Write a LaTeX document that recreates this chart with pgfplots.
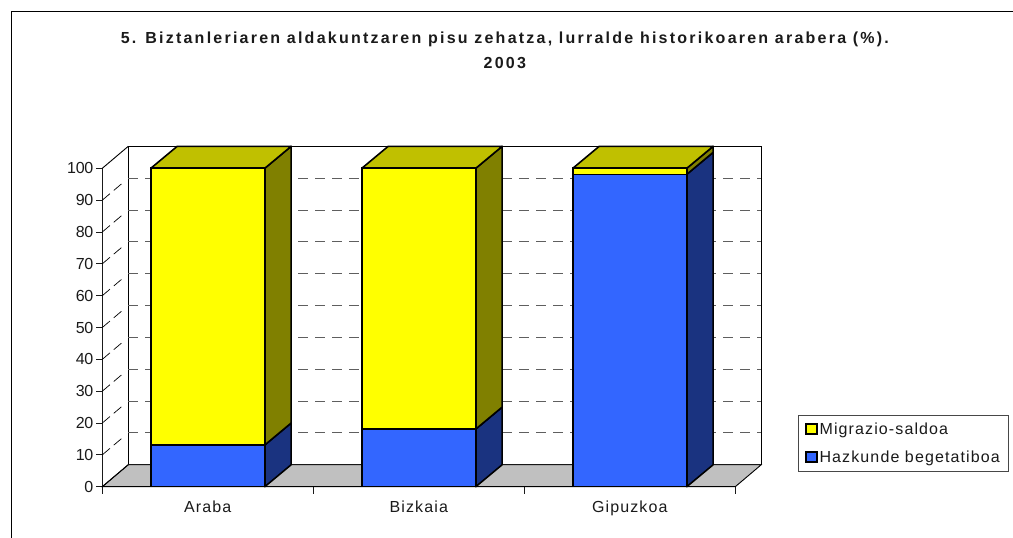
\documentclass[border=0pt]{standalone}
\usepackage{fontspec}
\setmainfont{Liberation Sans}[LetterSpace=6]
\usepackage{pgfplots}
\usepackage{pgfplotstable}
\pgfplotsset{compat=1.18}
\definecolor{barY}{HTML}{FFFF00}
\definecolor{barYtop}{HTML}{C0C000}
\definecolor{barYside}{HTML}{808000}
\definecolor{barB}{HTML}{3366FF}
\definecolor{barBside}{HTML}{1A3380}
\definecolor{floorgray}{HTML}{C0C0C0}
\definecolor{txt}{HTML}{1A1A1A}

\pgfplotstableread{
x    blue  yellow
0.5  13.1  86.9
1.5  18.1  81.9
2.5  98.1  1.9
}\shares

\pgfplotsset{
  base/.style={
    scale only axis, width=633pt, height=318.4pt,
    at={(102.3pt,51.3pt)}, anchor=origin,
    xmin=0, xmax=3, ymin=0, ymax=100, clip=false,
  },
  face/.style={draw=black, line width=1.6pt, line join=round, mark=none, forget plot},
}

\begin{document}
\begin{tikzpicture}
\useasboundingbox (0pt,0pt) rectangle (1013pt,538pt);
\draw[black, line width=1pt] (11pt,0pt) -- (11pt,526pt) -- (1013pt,526pt);
\begin{axis}[base,
    axis x line*=bottom, axis y line*=left,
    axis line style={-, line width=0.9pt, color=txt},
    ytick={0,10,...,100},
    xtick={0.5,1.5,2.5},
    xticklabels={Araba,Bizkaia,Gipuzkoa},
    minor xtick={0,1,2,3},
    major x tick style={draw=none},
    minor x tick style={color=txt, line width=0.8pt},
    major y tick style={color=txt, line width=0.8pt},
    tick align=outside,
    minor tick length=7pt,
    major tick length=6pt,
    tick label style={font=\fontsize{16}{18}\selectfont, text=txt},
    /pgf/number format/assume math mode=true,
    xticklabel style={yshift=-5pt, font=\fontsize{16}{18}\selectfont\addfontfeature{LetterSpace=7}},
    yticklabel style={xshift=0.5pt, font=\fontsize{16}{18}\selectfont\addfontfeature{LetterSpace=-2}},
    title style={at={(0.636,1.0)}, anchor=south, yshift=90pt, align=center,
      font=\fontsize{16}{25}\selectfont\bfseries\addfontfeature{LetterSpace=14}, text=txt},
    title={5. Biztanleriaren aldakuntzaren pisu zehatza, lurralde historikoaren arabera (\%).\\2003},
    unbounded coords=jump,
]
% back wall and floor
\addplot[fill=white, draw=black, line width=1pt, mark=none, forget plot] coordinates {
  (0.123,6.9) (3.123,6.9) (3.123,106.9) (0.123,106.9)} --cycle;
\addplot[fill=floorgray, draw=black, line width=0.9pt, mark=none, forget plot] coordinates {
  (0,0) (3,0) (3.123,6.9) (0.123,6.9)} --cycle;
\addplot[black, line width=0.9pt, mark=none, forget plot] coordinates {(0,100) (0.123,106.9)};
\addplot[black, line width=0.9pt, mark=none, forget plot] coordinates {(0,0) (0.123,6.9)};
% dashed grid, slanted part on the side wall
\addplot[color=txt!70, line width=1pt, dash pattern=on 10pt off 7pt, mark=none, forget plot] coordinates {
  (0.123,16.9) (3.123,16.9) (nan,nan)
  (0.123,26.9) (3.123,26.9) (nan,nan)
  (0.123,36.9) (3.123,36.9) (nan,nan)
  (0.123,46.9) (3.123,46.9) (nan,nan)
  (0.123,56.9) (3.123,56.9) (nan,nan)
  (0.123,66.9) (3.123,66.9) (nan,nan)
  (0.123,76.9) (3.123,76.9) (nan,nan)
  (0.123,86.9) (3.123,86.9) (nan,nan)
  (0.123,96.9) (3.123,96.9)};
\addplot[color=black, line width=0.7pt, dash pattern=on 10pt off 5pt on 10pt off 20pt, mark=none, forget plot] coordinates {
  (0,10) (0.123,16.9) (nan,nan)
  (0,20) (0.123,26.9) (nan,nan)
  (0,30) (0.123,36.9) (nan,nan)
  (0,40) (0.123,46.9) (nan,nan)
  (0,50) (0.123,56.9) (nan,nan)
  (0,60) (0.123,66.9) (nan,nan)
  (0,70) (0.123,76.9) (nan,nan)
  (0,80) (0.123,86.9) (nan,nan)
  (0,90) (0.123,96.9)};
\addplot[color=black, line width=1pt, dash pattern=on 12pt off 3pt, mark=none, forget plot] coordinates {(0.123,106.9) (3.123,106.9)};
% side and top faces
\addplot[face, fill=barBside] coordinates {(0.77,0) (0.895,6.9) (0.895,20) (0.77,13.1)} --cycle;
\addplot[face, fill=barYside] coordinates {(0.77,13.1) (0.895,20) (0.895,106.9) (0.77,100)} --cycle;
\addplot[face, fill=barYtop] coordinates {(0.23,100) (0.77,100) (0.895,106.9) (0.355,106.9)} --cycle;
\addplot[face, fill=barBside] coordinates {(1.77,0) (1.895,6.9) (1.895,25) (1.77,18.1)} --cycle;
\addplot[face, fill=barYside] coordinates {(1.77,18.1) (1.895,25) (1.895,106.9) (1.77,100)} --cycle;
\addplot[face, fill=barYtop] coordinates {(1.23,100) (1.77,100) (1.895,106.9) (1.355,106.9)} --cycle;
\addplot[face, fill=barBside] coordinates {(2.77,0) (2.895,6.9) (2.895,105) (2.77,98.1)} --cycle;
\addplot[face, fill=barYside] coordinates {(2.77,98.1) (2.895,105) (2.895,106.9) (2.77,100)} --cycle;
\addplot[face, fill=barYtop] coordinates {(2.23,100) (2.77,100) (2.895,106.9) (2.355,106.9)} --cycle;
\end{axis}
\begin{axis}[base,
    axis lines=none,
    ybar stacked, bar width=114pt,
    reverse legend,
    legend style={at={(1.099,0.225)}, anchor=north west,
      draw=txt!80, line width=0.8pt,
      font=\fontsize{16}{18}\selectfont\addfontfeature{LetterSpace=7}, text=txt,
      inner xsep=7pt, inner ysep=5.5pt,
      row sep=11pt,
      /tikz/every even column/.style={column sep=6pt}},
    legend cell align=left,
    legend image code/.code={\draw[#1, line width=1.2pt] (0pt,-4.5pt) rectangle (11pt,5.5pt);},
]
\addplot[draw=black, line width=1.6pt, fill=barB] table[x=x, y=blue] {\shares};
\addplot[draw=black, line width=1.6pt, fill=barY] table[x=x, y=yellow] {\shares};
\legend{Hazkunde begetatiboa, Migrazio-saldoa}
\end{axis}
\end{tikzpicture}
\end{document}
